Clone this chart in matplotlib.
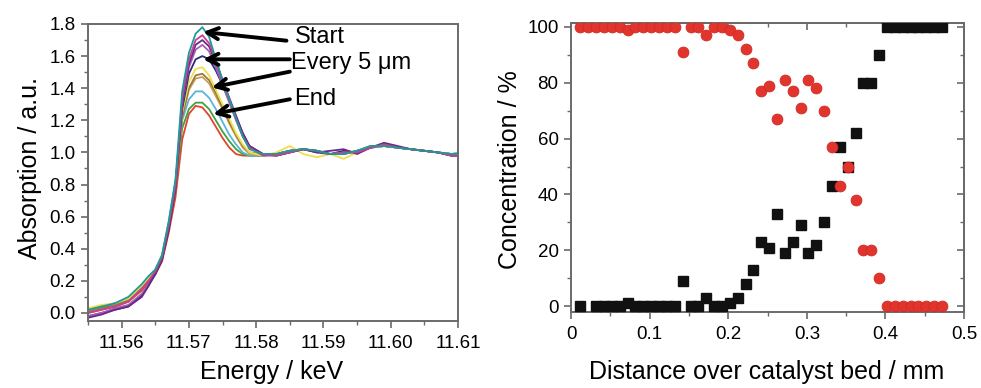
import numpy as np
import matplotlib
matplotlib.use("Agg")
import matplotlib.pyplot as plt
from matplotlib.ticker import MultipleLocator, NullFormatter

plt.rcParams['font.family'] = ['Liberation Sans', 'DejaVu Sans']

# ---- left panel: XANES spectra along the bed ----
energy = [11.555, 11.557, 11.559, 11.561, 11.563, 11.564, 11.565, 11.566, 11.567,
          11.568, 11.569, 11.570, 11.571, 11.572, 11.573, 11.574, 11.575, 11.576,
          11.577, 11.578, 11.579, 11.581, 11.583, 11.585, 11.587, 11.589, 11.591,
          11.593, 11.595, 11.597, 11.599, 11.601, 11.603, 11.605, 11.607, 11.609, 11.610]

teal = [0.02, 0.04, 0.06, 0.10, 0.18, 0.23, 0.27, 0.36, 0.57,
        0.83, 1.38, 1.62, 1.74, 1.78, 1.72, 1.58, 1.45, 1.33, 1.21, 1.10, 1.02,
        0.99, 0.99, 1.01, 1.02, 1.01, 0.99, 0.99, 1.01, 1.04, 1.04, 1.03, 1.02, 1.01, 1.00, 0.99, 0.99]
magenta = [0.00, 0.02, 0.04, 0.07, 0.15, 0.20, 0.26, 0.35, 0.55,
           0.80, 1.33, 1.58, 1.70, 1.73, 1.68, 1.57, 1.45, 1.33, 1.21, 1.10, 1.03,
           0.98, 0.98, 1.00, 1.02, 1.01, 0.99, 1.00, 1.00, 1.03, 1.05, 1.03, 1.02, 1.01, 1.00, 0.98, 0.98]
purple = [-0.03, -0.01, 0.02, 0.04, 0.10, 0.17, 0.25, 0.34, 0.53,
          0.78, 1.30, 1.55, 1.67, 1.70, 1.66, 1.56, 1.45, 1.34, 1.23, 1.12, 1.04,
          0.99, 0.98, 1.00, 1.02, 1.00, 1.01, 1.02, 0.99, 1.03, 1.06, 1.04, 1.02, 1.01, 1.00, 0.98, 0.98]
violet = [-0.02, 0.00, 0.03, 0.05, 0.12, 0.18, 0.25, 0.34, 0.54,
          0.80, 1.30, 1.53, 1.64, 1.67, 1.63, 1.53, 1.42, 1.31, 1.20, 1.10, 1.03,
          0.99, 0.99, 1.01, 1.02, 1.01, 0.99, 1.00, 1.00, 1.03, 1.04, 1.03, 1.02, 1.01, 1.00, 0.99, 0.99]
navy = [-0.02, 0.00, 0.02, 0.04, 0.11, 0.17, 0.24, 0.33, 0.52,
        0.78, 1.27, 1.49, 1.58, 1.60, 1.58, 1.51, 1.42, 1.32, 1.22, 1.12, 1.04,
        0.99, 0.98, 1.00, 1.02, 1.00, 0.99, 1.01, 1.00, 1.03, 1.05, 1.03, 1.02, 1.01, 1.00, 0.98, 0.98]
yellow = [0.03, 0.05, 0.06, 0.09, 0.17, 0.22, 0.27, 0.36, 0.56,
          0.80, 1.25, 1.44, 1.52, 1.53, 1.48, 1.39, 1.30, 1.21, 1.12, 1.05, 1.00,
          0.98, 1.00, 1.04, 0.99, 0.97, 0.99, 0.96, 1.00, 1.03, 1.04, 1.03, 1.02, 1.01, 1.00, 0.99, 0.99]
olive = [0.01, 0.03, 0.05, 0.08, 0.16, 0.21, 0.26, 0.35, 0.55,
         0.78, 1.22, 1.40, 1.48, 1.49, 1.45, 1.37, 1.28, 1.19, 1.11, 1.04, 1.00,
         0.99, 0.99, 1.01, 1.02, 1.01, 0.99, 0.99, 1.01, 1.04, 1.04, 1.03, 1.02, 1.01, 1.00, 0.99, 0.99]
tan = [0.01, 0.03, 0.05, 0.08, 0.16, 0.21, 0.26, 0.35, 0.55,
       0.80, 1.22, 1.39, 1.46, 1.47, 1.43, 1.35, 1.27, 1.18, 1.10, 1.03, 0.99,
       0.98, 0.99, 1.01, 1.02, 1.01, 0.99, 0.99, 1.01, 1.03, 1.04, 1.03, 1.02, 1.01, 1.00, 0.99, 0.99]
lightblue = [0.02, 0.04, 0.06, 0.09, 0.17, 0.22, 0.27, 0.36, 0.57,
             0.82, 1.20, 1.33, 1.38, 1.38, 1.34, 1.27, 1.19, 1.11, 1.05, 1.00, 0.98,
             0.98, 0.99, 1.01, 1.02, 1.01, 0.99, 0.99, 1.01, 1.03, 1.04, 1.03, 1.02, 1.01, 1.00, 0.99, 1.00]
green = [0.01, 0.04, 0.06, 0.09, 0.17, 0.22, 0.26, 0.35, 0.55,
         0.80, 1.15, 1.27, 1.31, 1.31, 1.27, 1.20, 1.13, 1.07, 1.02, 0.99, 0.98,
         0.98, 0.99, 1.01, 1.02, 1.01, 0.99, 0.99, 1.01, 1.03, 1.04, 1.03, 1.02, 1.01, 1.00, 0.99, 0.99]
red = [0.00, 0.02, 0.04, 0.07, 0.14, 0.19, 0.24, 0.32, 0.50,
       0.72, 1.08, 1.24, 1.29, 1.28, 1.23, 1.16, 1.09, 1.03, 0.99, 0.98, 0.98,
       0.98, 0.99, 1.01, 1.02, 1.01, 0.99, 0.99, 1.01, 1.03, 1.04, 1.03, 1.02, 1.01, 1.00, 0.99, 0.99]

spectra = [red, green, lightblue, tan, olive, yellow, navy, violet, purple, magenta, teal]
spec_colors = ['#e0452a', '#3fa045', '#5cb4d6', '#c8a060', '#9a7a3a', '#eee04a',
               '#2b2c7c', '#a45fb2', '#6b2a88', '#c8408e', '#1d9a9a']

# ---- right panel: concentration profile ----
distance = [0.012, 0.022, 0.032, 0.042, 0.052, 0.062, 0.072, 0.082, 0.092, 0.102,
            0.112, 0.122, 0.132, 0.142, 0.152, 0.162, 0.172, 0.182, 0.192, 0.202,
            0.212, 0.222, 0.232, 0.242, 0.252, 0.262, 0.272, 0.282, 0.292, 0.302,
            0.312, 0.322, 0.332, 0.342, 0.352, 0.362, 0.372, 0.382, 0.392, 0.402,
            0.412, 0.422, 0.432, 0.442, 0.452, 0.462, 0.472]
conc_red = [100, 100, 100, 100, 100, 100, 99, 100, 100, 100, 100, 100, 100, 91, 100,
            100, 97, 100, 100, 99, 97, 92, 87, 77, 79, 67, 81, 77, 71, 81, 78, 70,
            57, 43, 50, 38, 20, 20, 10, 0, 0, 0, 0, 0, 0, 0, 0]
conc_black = [0, np.nan, 0, 0, 0, 0, 1, 0, 0, 0, 0, 0, 0, 9, 0, 0, 3, 0, 0, 1, 3, 8,
              13, 23, 21, 33, 19, 23, 29, 19, 22, 30, 43, 57, 50, 62, 80, 80, 90,
              100, 100, 100, 100, 100, 100, 100, 100]

spine_col = '#6a6a6a'
tick_fs = 13.5
label_fs = 18

fig = plt.figure(figsize=(9.81, 3.88), dpi=100)
ax1 = fig.add_axes([0.0897, 0.1727, 0.3772, 0.7655])
ax2 = fig.add_axes([0.5821, 0.1966, 0.4006, 0.7448])

for y, c in zip(spectra, spec_colors):
    ax1.plot(energy, y, color=c, lw=1.3)

ax1.set_xlim(11.555, 11.61)
ax1.set_ylim(-0.05, 1.8)
ax1.set_xticks([11.56, 11.57, 11.58, 11.59, 11.60, 11.61])
ax1.set_xticklabels(['11.56', '11.57', '11.58', '11.59', '11.60', '11.61'])
ax1.xaxis.set_minor_locator(MultipleLocator(0.005))
ax1.set_yticks(np.arange(0, 1.81, 0.2))
ax1.set_yticklabels(['%.1f' % v for v in np.arange(0, 1.81, 0.2)])
ax1.yaxis.set_minor_locator(MultipleLocator(0.1))

arrow_kw = dict(arrowstyle='->, head_length=0.8, head_width=0.4', lw=2.8, color='k',
                shrinkA=0, shrinkB=0)
arrows = [((11.5845, 1.696), (11.5721, 1.750)),
          ((11.5850, 1.580), (11.5721, 1.580)),
          ((11.5850, 1.503), (11.5734, 1.405)),
          ((11.5850, 1.331), (11.5736, 1.239))]
for tail, tip in arrows:
    ax1.annotate('', xy=tip, xytext=tail, arrowprops=arrow_kw)
ax1.text(11.5857, 1.716, 'Start', fontsize=17, va='center', ha='left')
ax1.text(11.5852, 1.554, 'Every 5 \u03bcm', fontsize=17, va='center', ha='left')
ax1.text(11.5857, 1.335, 'End', fontsize=17, va='center', ha='left')

ax2.plot(distance, conc_black, 's', color='#111111', ms=7.0, mec='#111111', zorder=3)
ax2.plot(distance, conc_red, 'o', color='#e0342c', ms=7.8, mec='#d02a24', mew=0.6, zorder=4)
ax2.set_xlim(0, 0.5)
ax2.set_ylim(-2, 101.5)
ax2.set_xticks([0, 0.1, 0.2, 0.3, 0.4, 0.5])
ax2.set_xticklabels(['0', '0.1', '0.2', '0.3', '0.4', '0.5'])
ax2.xaxis.set_minor_locator(MultipleLocator(0.05))
ax2.set_yticks([0, 20, 40, 60, 80, 100])
ax2.yaxis.set_minor_locator(MultipleLocator(10))

for ax in (ax1, ax2):
    for s in ax.spines.values():
        s.set_color(spine_col)
        s.set_linewidth(1.4)
    ax.tick_params(which='major', direction='out', length=5, width=1.2, color=spine_col,
                   labelsize=tick_fs)
    ax.tick_params(which='minor', direction='out', length=3, width=1.0, color=spine_col)
    ax.tick_params(axis='x', which='major', pad=5)
    ax.tick_params(axis='y', which='major', pad=4)

# inward ticks on the top and right of the right panel
top = ax2.secondary_xaxis('top')
top.set_xticks([0, 0.1, 0.2, 0.3, 0.4, 0.5])
top.xaxis.set_minor_locator(MultipleLocator(0.05))
top.xaxis.set_major_formatter(NullFormatter())
right = ax2.secondary_yaxis('right')
right.set_yticks([0, 20, 40, 60, 80, 100])
right.yaxis.set_minor_locator(MultipleLocator(10))
right.yaxis.set_major_formatter(NullFormatter())
for sec in (top, right):
    for s in sec.spines.values():
        s.set_color(spine_col)
        s.set_linewidth(1.4)
    sec.tick_params(which='major', direction='in', length=5, width=1.2, color=spine_col)
    sec.tick_params(which='minor', direction='in', length=3, width=1.0, color=spine_col)

fig.text(272 / 981, 1 - 372 / 388, 'Energy / keV', fontsize=label_fs, ha='center', va='center')
fig.text(767 / 981, 1 - 372 / 388, 'Distance over catalyst bed / mm', fontsize=label_fs,
         ha='center', va='center')
fig.text(30 / 981, 1 - 168 / 388, 'Absorption / a.u.', fontsize=label_fs, rotation=90,
         ha='center', va='center')
fig.text(510 / 981, 1 - 170 / 388, 'Concentration / %', fontsize=label_fs, rotation=90,
         ha='center', va='center')

fig.savefig('out.png', dpi=100, facecolor='white')
